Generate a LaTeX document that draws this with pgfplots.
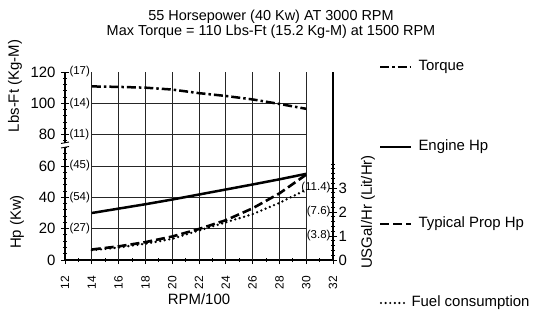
\documentclass[border=0pt]{standalone}
\usepackage{fontspec}
\setmainfont{Liberation Sans}
\usepackage{pgfplots}
\pgfplotsset{compat=1.18}
\newcommand{\bigf}{\fontsize{15}{15}\selectfont}
\newcommand{\titlef}{\fontsize{14.5}{14.5}\selectfont}
\newcommand{\smallf}{\fontsize{11.5}{11.5}\selectfont}
\begin{document}
\begin{tikzpicture}[x=1bp,y=1bp]
\path[use as bounding box] (0,0) rectangle (540,314);
\begin{axis}[
  at={(65bp,54bp)}, anchor=south west,
  scale only axis, width=268bp, height=188bp,
  xmin=12, xmax=32, ymin=0, ymax=120,
  axis x line=bottom, axis y line=left,
  axis line style={-, line width=1.2bp},
  xtick={12,14,...,32}, minor x tick num=1,
  ytick={0,20,...,120}, minor y tick num=4,
  tick align=center, major tick length=8bp, minor tick length=4bp,
  tick style={black, line width=0.9bp},
  /pgf/number format/assume math mode=true,
  xticklabel style={rotate=90, anchor=east, font=\fontsize{12}{12}\selectfont},
  xticklabel shift=8.5bp,
  yticklabel style={font=\bigf, xshift=-2bp},
  clip=false,
]
\draw[black!85, line width=0.8bp] (axis cs:14,0) -- (axis cs:14,120);
\draw[black!85, line width=0.8bp] (axis cs:16,0) -- (axis cs:16,120);
\draw[black!85, line width=0.8bp] (axis cs:18,0) -- (axis cs:18,120);
\draw[black!85, line width=0.8bp] (axis cs:20,0) -- (axis cs:20,120);
\draw[black!85, line width=0.8bp] (axis cs:22,0) -- (axis cs:22,120);
\draw[black!85, line width=0.8bp] (axis cs:24,0) -- (axis cs:24,120);
\draw[black!85, line width=0.8bp] (axis cs:26,0) -- (axis cs:26,120);
\draw[black!85, line width=0.8bp] (axis cs:28,0) -- (axis cs:28,120);
\draw[black!85, line width=0.8bp] (axis cs:30,0) -- (axis cs:30,120);
\draw[black!85, line width=0.8bp] (axis cs:14,20) -- (axis cs:30,20);
\draw[black!85, line width=0.8bp] (axis cs:14,40) -- (axis cs:30,40);
\draw[black!85, line width=0.8bp] (axis cs:14,60) -- (axis cs:30,60);
\draw[black!85, line width=0.8bp] (axis cs:14,80) -- (axis cs:30,80);
\draw[black!85, line width=0.8bp] (axis cs:14,100) -- (axis cs:30,100);
% Torque
\addplot[black, line width=2.5bp, dash pattern=on 9bp off 3bp on 2.5bp off 3bp] coordinates {
(14,110.8) (16,110.5) (18,110) (20,108.8) (22,106.5) (24,104.7) (26,102.5) (28,99.6) (30,96.5)};
% Engine Hp
\addplot[black, line width=2.5bp] coordinates {
(14,30) (16,32.8) (18,35.6) (20,38.6) (22,41.8) (24,45) (26,48.2) (28,51.5) (30,55)};
% Typical Prop Hp
\addplot[black, line width=2.6bp, dash pattern=on 9bp off 4bp] coordinates {
(14,6.7) (16,8.7) (18,11.4) (20,15) (22,19.8) (24,25.4) (26,33) (28,42.5) (30,54.5)};
\node[anchor=west, font=\smallf, inner sep=1bp] at (axis cs:12.25,120) {(17)};
\node[anchor=west, font=\smallf, inner sep=1bp] at (axis cs:12.25,100) {(14)};
\node[anchor=west, font=\smallf, inner sep=1bp] at (axis cs:12.25,80) {(11)};
\node[anchor=west, font=\smallf, inner sep=1bp] at (axis cs:12.25,60) {(45)};
\node[anchor=west, font=\smallf, inner sep=1bp] at (axis cs:12.25,40) {(54)};
\node[anchor=west, font=\smallf, inner sep=1bp] at (axis cs:12.25,20) {(27)};
\end{axis}
\begin{axis}[
  at={(65bp,54bp)}, anchor=south west,
  scale only axis, width=268bp, height=188bp,
  xmin=12, xmax=32, ymin=0, ymax=7.8333,
  axis x line=none, axis y line=right,
  axis line style={-, line width=1.2bp},
  ytick={0,1,2,3}, minor ytick={0.2,0.4,...,3.9},
  tick align=center, major tick length=8bp, minor tick length=4bp,
  tick style={black, line width=0.9bp},
  /pgf/number format/assume math mode=true,
  yticklabel style={font=\bigf, xshift=-2bp},
  clip=false,
]
% Fuel consumption (USGal/Hr)
\addplot[black, line width=2.6bp, line cap=round, dash pattern=on 0bp off 4.6bp] coordinates {
(14,0.41) (16,0.52) (18,0.68) (20,0.88) (22,1.23) (24,1.57) (26,1.91) (28,2.38) (30,2.93)};
\node[anchor=east, font=\smallf, inner sep=1bp] at (axis cs:31.9,3) {(11.4)};
\node[anchor=east, font=\smallf, inner sep=1bp] at (axis cs:31.9,2) {(7.6)};
\node[anchor=east, font=\smallf, inner sep=1bp] at (axis cs:31.9,1) {(3.8)};
\end{axis}
% axis break
\fill[white] (61,167) rectangle (69,171);
\draw[line width=0.9bp] (61,166) -- (69,167.5);
\draw[line width=0.9bp] (61,170.5) -- (69,172);
% titles and labels
\node[anchor=base, font=\titlef, inner sep=0pt] at (271,293.5) {55 Horsepower (40 Kw) AT 3000 RPM};
\node[anchor=base, font=\titlef, inner sep=0pt] at (271,279) {Max Torque = 110 Lbs-Ft (15.2 Kg-M) at 1500 RPM};
\node[rotate=90, font=\bigf] at (15,228) {Lbs-Ft (Kg-M)};
\node[rotate=90, font=\bigf] at (17,92) {Hp (Kw)};
\node[rotate=90, font=\bigf] at (368,102) {USGal/Hr (Lit/Hr)};
\node[font=\bigf] at (199,15) {RPM/100};
% legend
\draw[line width=2.5bp, dash pattern=on 9bp off 3bp on 2.5bp off 3bp] (380,247) -- (411,247);
\node[anchor=west, font=\bigf] at (415,247) {Torque};
\draw[line width=2.5bp] (380,167) -- (411,167);
\node[anchor=west, font=\bigf] at (415,167) {Engine Hp};
\draw[line width=2.6bp, dash pattern=on 9bp off 4bp] (380,90) -- (411,90);
\node[anchor=west, font=\bigf] at (415,90) {Typical Prop Hp};
\draw[line width=2.4bp, line cap=round, dash pattern=on 0bp off 4.6bp] (381,11) -- (408,11);
\node[anchor=west, font=\bigf] at (408,11) {Fuel consumption};
\end{tikzpicture}
\end{document}
